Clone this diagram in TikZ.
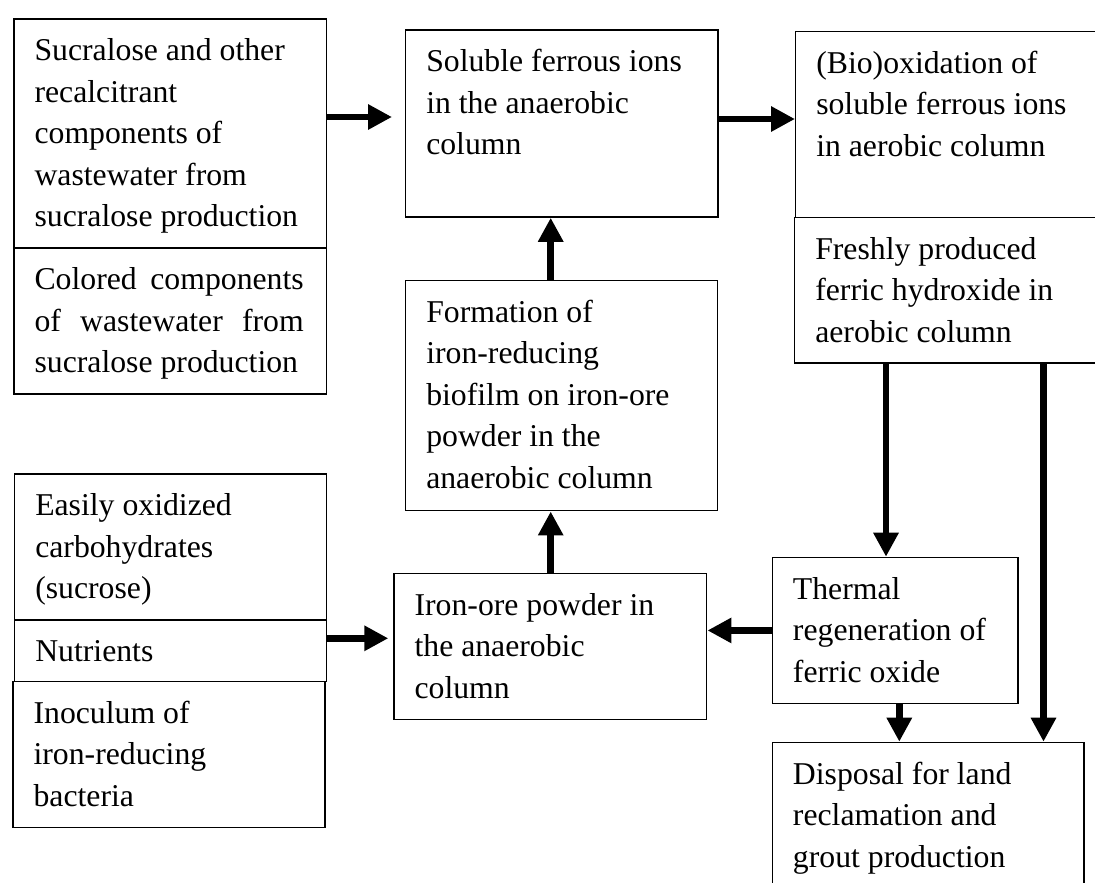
\documentclass[tikz,border=0pt]{standalone}
\usepackage{fontspec}
\setmainfont{Liberation Serif}
\usetikzlibrary{arrows.meta}
\newcommand\mybox[5]{\node[box, minimum width={(#4-#2)*0.75pt}, minimum height={(#5-#3)*0.75pt}] (#1) at (#2,#3) {};}
\newcommand\mytext[2]{\node[txt] (#1t) at ([shift={(21,42.5)}]#1.north west) {\parbox[t]{12cm}{\raggedright #2}};}
\begin{document}
\begin{tikzpicture}[x=0.75pt,y=-0.75pt,
  box/.style={draw, line width=1.1pt, inner sep=0pt, anchor=north west},
  txt/.style={inner sep=0pt, anchor=base west, font=\fontsize{23.8pt}{31.1pt}\selectfont},
  arr/.style={line width=5.2pt, -{Triangle[length=18pt,width=18pt]}}]
\useasboundingbox (0,0) rectangle (1095,882);
\clip (0,0) rectangle (1095,882);
% boxes
\mybox{A1}{13.3}{18.3}{326}{247.3}
\mybox{A2}{13.3}{247.3}{326}{393.3}
\mybox{B}{405}{29.3}{717.3}{216.3}
\mybox{C}{795}{30.7}{1115}{216.7}
\mybox{D}{794}{216.7}{1115}{362.3}
\mybox{E}{405}{280}{717}{510}
\mybox{F}{393.3}{572.7}{706}{719}
\mybox{G}{771.7}{556.7}{1017.3}{702.7}
\mybox{H}{771.7}{741.7}{1083.3}{905}
\mybox{I1}{14}{473.3}{326}{619.3}
\mybox{I2}{14}{619.3}{326}{681}
\mybox{I3}{12.3}{681}{324.3}{826.7}
% texts
\mytext{A1}{Sucralose and other\\recalcitrant\\components of\\wastewater from\\sucralose production}
\mytext{A2}{\makebox[201.9pt][s]{Colored components}\\\makebox[201.9pt][s]{of wastewater from}\\sucralose production}
\mytext{B}{Soluble ferrous ions\\in the anaerobic\\column}
\mytext{C}{(Bio)oxidation of\\soluble ferrous ions\\in aerobic column}
\mytext{D}{Freshly produced\\ferric hydroxide in\\aerobic column}
\mytext{E}{Formation of\\iron-reducing\\biofilm on iron-ore\\powder in the\\anaerobic column}
\mytext{F}{Iron-ore powder in\\the anaerobic\\column}
\mytext{G}{Thermal\\regeneration of\\ferric oxide}
\mytext{H}{Disposal for land\\reclamation and\\grout production}
\mytext{I1}{Easily oxidized\\carbohydrates\\(sucrose)}
\mytext{I2}{Nutrients}
\mytext{I3}{Inoculum of\\iron-reducing\\bacteria}
% arrows
\draw[arr, shorten >=9.75pt] (A1.east |- 0,117) -- (B.west |- 0,117);
\draw[arr, shorten >=3.75pt] (I2.east |- 0,638.3) -- (F.west |- 0,638.3);
\draw[arr] (B.east |- 0,119) -- (C.west |- 0,119);
\draw[arr] (550.7,0 |- E.north) -- (550.7,0 |- B.south);
\draw[arr] (550.7,0 |- F.north) -- (550.7,0 |- E.south);
\draw[arr] (G.west) -- (F.east |- G.west);
\draw[arr] (886,0 |- D.south) -- (886,0 |- G.north);
\draw[arr] (1043.5,0 |- D.south) -- (1043.5,0 |- H.north);
\draw[arr] (899.3,0 |- G.south) -- (899.3,0 |- H.north);
\end{tikzpicture}
\end{document}
